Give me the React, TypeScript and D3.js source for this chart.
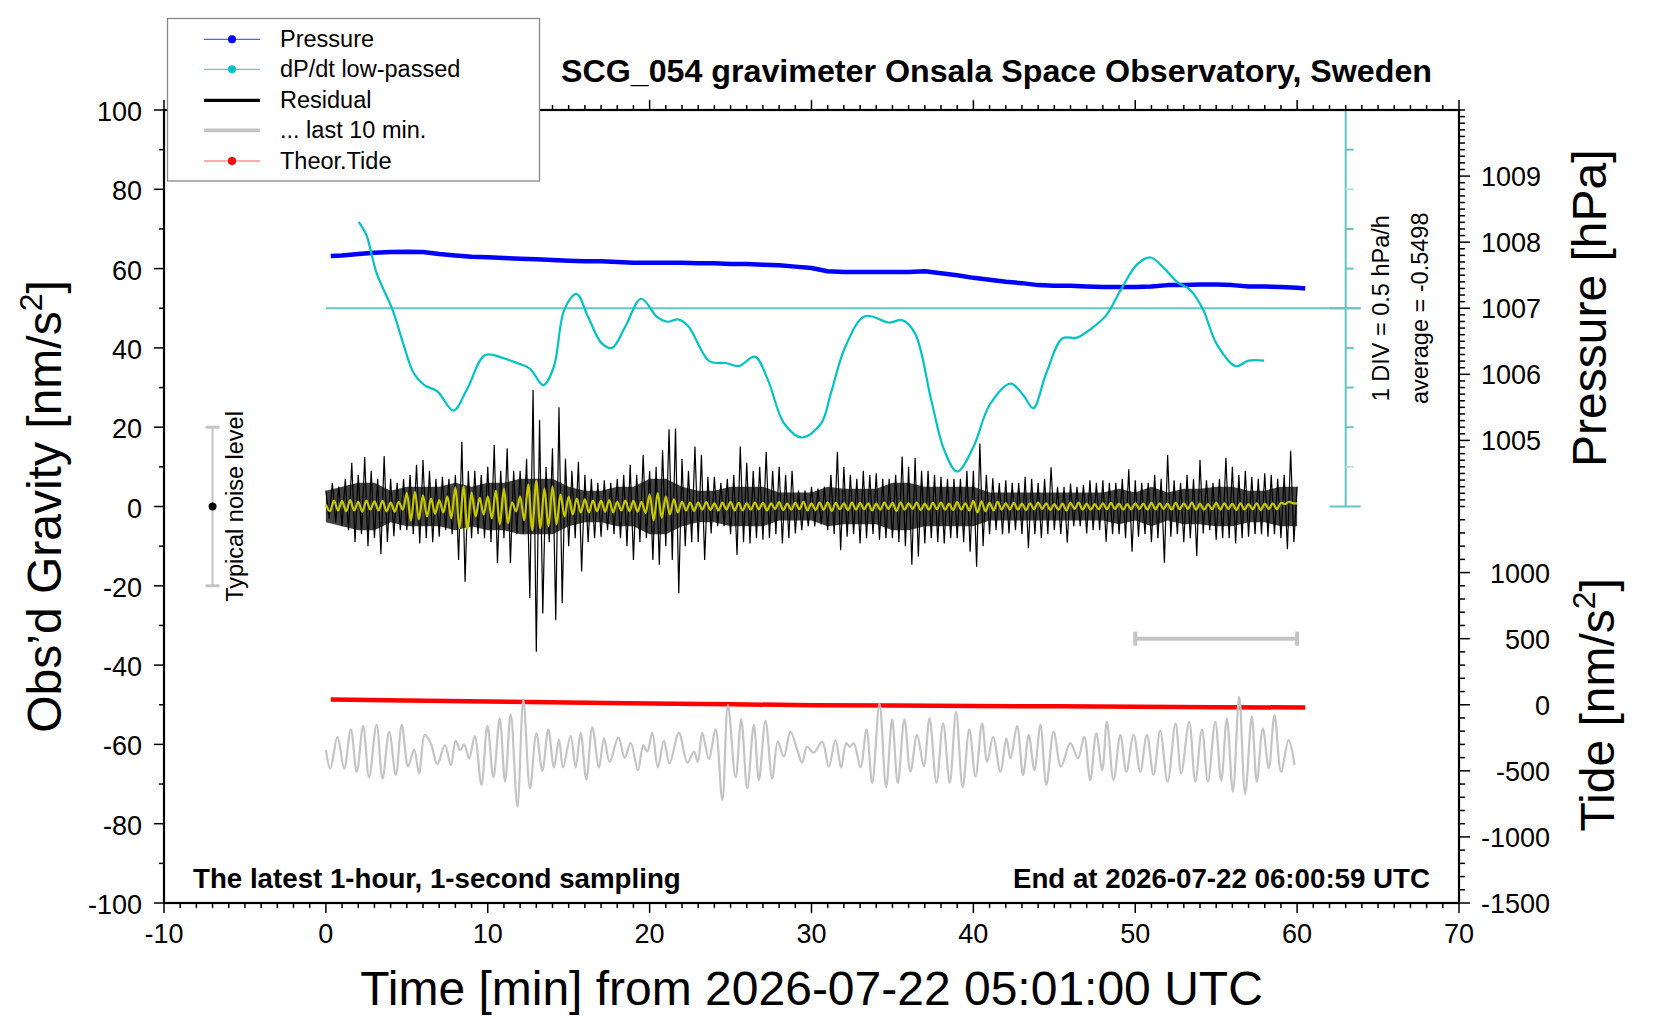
import React, { useRef, useEffect } from 'react';
import * as d3 from 'd3';

// ---- data ----

// barometric pressure [hPa] against minutes
const pressureTime = [0.3, 1, 2, 3, 4, 5, 6, 7, 8, 9, 10, 11, 12, 13, 14, 15, 16, 17, 18, 19, 20, 21, 22, 23, 24, 25, 26, 27, 28, 29, 30,
  31, 32, 33, 34, 35, 36, 37, 38, 39, 40, 41, 42, 43, 44, 45, 46, 47, 48, 49, 50, 51, 52, 53, 54, 55, 56, 57, 58, 59, 60, 60.5];
const pressureHpa = [1007.79, 1007.80, 1007.82, 1007.84, 1007.85, 1007.855, 1007.85, 1007.82, 1007.80, 1007.78, 1007.77,
  1007.76, 1007.75, 1007.74, 1007.73, 1007.72, 1007.71, 1007.71, 1007.70, 1007.69, 1007.69, 1007.69, 1007.69, 1007.68,
  1007.68, 1007.67, 1007.67, 1007.66, 1007.65, 1007.63, 1007.61, 1007.56, 1007.55, 1007.55, 1007.55, 1007.55, 1007.55,
  1007.56, 1007.53, 1007.50, 1007.46, 1007.43, 1007.40, 1007.38, 1007.35, 1007.34, 1007.34, 1007.33, 1007.32, 1007.32,
  1007.32, 1007.33, 1007.35, 1007.35, 1007.36, 1007.36, 1007.35, 1007.33, 1007.33, 1007.32, 1007.31, 1007.30];

// dP/dt low-passed [hPa/h]
const dpdtTime = [2.03, 2.49, 3.14, 4.12, 4.77, 5.43, 6.08, 6.9, 7.88, 8.7, 9.84, 10.98, 11.8, 12.6, 13.43, 14.08, 14.73,
  15.49, 16.2, 17.03, 17.68, 18.5, 19.48, 20.46, 21.1, 21.76, 22.4, 23.7, 24.7, 25.5, 26.5, 27.3, 28.3, 29.4, 30.6, 31.2,
  32.1, 33.3, 34.8, 35.6, 36.4, 37.4, 38.2, 39.0, 40.0, 41.0, 42.3, 43.1, 43.7, 44.5, 45.5, 46.4, 47.2, 48.2, 49.1, 50.1,
  50.95, 51.8, 52.6, 53.4, 54.2, 55.0, 56.2, 57.0, 57.96];
const dpdtValue = [1.09, 0.93, 0.44, -0.02, -0.44, -0.82, -0.97, -1.05, -1.29, -1.03, -0.59, -0.63, -0.69, -0.76, -0.97,
  -0.74, -0.02, 0.18, -0.11, -0.44, -0.5, -0.23, 0.12, -0.11, -0.17, -0.14, -0.23, -0.67, -0.69, -0.73, -0.61, -0.9, -1.45,
  -1.63, -1.45, -1.07, -0.48, -0.1, -0.18, -0.15, -0.32, -1.16, -1.79, -2.06, -1.75, -1.22, -0.95, -1.1, -1.26, -0.82, -0.38,
  -0.37, -0.27, -0.09, 0.23, 0.55, 0.64, 0.5, 0.33, 0.23, -0.02, -0.44, -0.73, -0.66, -0.66];
const dpdtAverage = -0.5498;

// residual gravity [nm/s^2], peaks every 0.2 min
const residualStep = 0.2;
const residual = [
  4, -3, 6, -4, 5, -5, 7, -6, 11, -9, 8, -7, 12.5, -10, 9, -8, 7, -12, 12.7, -9,
  7, -7.5, 6, -6, 7, -6, 8, -7, 10.5, -9.3, 11.7, -8, 9, -9, 7, -7.6, 7.5, -6, 7, -7,
  8, -13.5, 16.3, -19, 9, -8, 9, -7, 8, -8, 10, -9, 15.5, -14.3, 9, -8, 14.7, -14.3, 9, -7,
  9, -7, 12, -23.1, 29.4, -36.6, 21.8, -27, 10, -9, 14.7, -28.6, 25, -24.4, 12, -10, 9, -8, 11.3, -16.4,
  8, -9, 7, -8, 6, -7.6, 6.6, -6, 6, -7, 7, -8, 8, -10, 10.5, -13.5, 8, -9, 13, -8,
  9, -13.5, 10, -14.7, 14.2, -10, 19.5, -13.5, 19.7, -21.9, 12, -10, 9, -9, 15.1, -9, 13, -13.5, 7.5, -6.8,
  7.5, -5, 6, -5, 7, -7, 8, -12.2, 15.1, -9, 11, -9.3, 9, -8, 10, -8.4, 13.8, -8, 9, -7,
  10, -9.3, 8, -8, 9, -6.8, 4, -6, 4, -5, 5, -5, 4.5, -4.5, 5, -6, 8, -7, 13.8, -11,
  10, -7.6, 8, -7, 7, -9.3, 9, -8, 8, -7, 8.4, -8.4, 7, -8, 7, -8, 8, -9, 12.6, -10,
  10, -14.7, 12.2, -12.6, 9, -9.3, 9, -8, 8, -9, 7.5, -9.3, 7, -8, 7, -8, 7, -9, 9, -11.4,
  9, -15.2, 15.9, -10, 8, -7, 7.1, -6, 6, -7, 6.6, -6.8, 6, -6, 6, -7, 7.5, -10.5, 7, -7,
  6, -8, 7, -7, 9.9, -6, 5, -7, 5, -9.1, 5.8, -5, 5, -5, 5.5, -6.8, 6.6, -6, 6, -6,
  6.6, -8.9, 6, -7, 6, -7, 7, -8, 9.4, -11.4, 6.6, -7.6, 6, -7, 6, -9, 8, -8, 7, -14.2,
  13, -7.6, 6.6, -7, 6, -9, 8, -8, 7, -12.5, 11.7, -6.8, 6.6, -6, 6, -8.4, 7, -8, 12.3, -8,
  10, -9.3, 8, -8, 9, -7.6, 7.5, -7, 7, -7, 8.4, -7.6, 8, -7, 7, -8, 8, -10.8, 14, -9,
  5];

// half-width of the dense core of the residual band, per minute
const residualCore = [4, 5, 6, 6, 4, 5, 5, 5, 6, 5, 6, 6, 7, 7, 7, 5, 4, 4, 5, 5, 7, 7, 5, 4, 4, 5, 5, 5, 3.5, 3.5,
  3.5, 5, 4.5, 4.5, 4.5, 6, 6, 5, 5, 5, 5, 3.5, 3.5, 3.5, 3.5, 3.5, 3.5, 3.5, 3.5, 4.5, 3.5, 5, 3.5, 4.5, 4.5, 5, 5,
  4, 4, 5, 5];

// smoothed residual (yellow), peaks every 0.25 min
const smoothStep = 0.25;
const smoothed = [
  0.5, -1.2, 1.5, -1.0, 1.4, -1.2, 1.6, -1.0, 1.2, -1.3, 1.5, -0.8, 1.3, -1.0, 1.4, -1.2, 1.0, -1.3, 1.2, -0.8,
  3.4, -3.6, 3.7, -3.2, 2.8, -2.5, 2.0, -1.8, 1.6, -1.5, 2.5, -3.0, 4.8, -5.5, 5.0, -5.8, 3.5, -2.5, 2.2, -2.0,
  2.5, -3.0, 4.0, -4.5, 4.5, -4.2, 1.0, -1.2, 2.5, -3.5, 5.5, -6.0, 6.5, -5.5, 4.5, -5.0, 5.0, -4.5, 3.0, -2.5,
  2.5, -2.0, 2.0, -1.5, 1.8, -1.5, 1.5, -1.2, 1.5, -1.3, 1.6, -1.5, 1.2, -1.0, 1.5, -1.2, 1.4, -1.3, 1.2, -1.6,
  3.0, -3.5, 3.4, -2.8, 2.5, -2.0, 1.8, -1.5, 1.2, -1.0, 1.0, -1.1, 1.0, -0.8, 1.1, -0.9, 0.8, -1.0, 1.0, -0.8,
  1.2, -1.0, 0.9, -1.0, 0.8, -0.8, 1.0, -0.7, 0.9, -1.0, 0.8, -0.6, 1.1, -0.9, 0.7, -0.8, 0.9, -0.7, 1.2, -1.0,
  0.8, -0.9, 1.0, -0.8, 1.0, -1.1, 0.9, -0.7, 0.8, -0.9, 1.0, -0.8, 0.9, -0.7, 0.8, -1.0, 0.7, -0.8, 1.0, -0.6,
  0.9, -1.1, 1.0, -0.8, 0.8, -0.6, 1.0, -0.9, 0.7, -0.8, 0.9, -0.7, 1.0, -0.8, 0.7, -0.9, 1.1, -0.8, 0.8, -1.0,
  1.4, -1.5, 1.3, -1.2, 0.9, -1.0, 1.2, -0.8, 0.8, -0.7, 0.9, -0.8, 0.7, -0.9, 0.8, -0.7, 1.0, -0.6, 0.8, -0.9,
  0.6, -0.8, 0.7, -1.0, 0.9, -0.6, 1.0, -0.8, 0.7, -0.8, 0.6, -0.7, 0.8, -0.7, 0.9, -0.6, 0.7, -0.8, 0.6, -0.7,
  0.8, -0.6, 0.7, -0.8, 0.9, -0.7, 0.8, -0.6, 0.7, -0.8, 0.9, -0.7, 0.8, -0.6, 1.0, -0.8, 0.7, -0.8, 0.6, -0.7,
  0.9, -0.8, 0.8, -0.6, 0.7, -0.9, 0.8, -0.8, 0.6, -0.7, 0.8, -0.9, 0.7, -0.6, 0.8, -0.7, 0.9, 0.6, 1.2, 0.8,
  0.8];

// "last 10 min." trace (grey), peaks and troughs
const lastTime = [0.00, 0.27, 0.72, 1.13, 1.54, 1.91, 2.30, 2.67, 3.13, 3.50, 3.91, 4.32, 4.69, 5.08, 5.45, 5.76, 6.11,
  6.48, 6.89, 7.35, 7.72, 8.02, 8.29, 8.54, 8.85, 9.20, 9.61, 9.98, 10.35, 10.74, 11.07, 11.42, 11.83, 12.20, 12.61,
  13.00, 13.37, 13.74, 14.09, 14.40, 14.65, 15.12, 15.43, 15.74, 16.09, 16.46, 16.87, 17.18, 17.53, 18.07, 18.46, 18.83,
  19.28, 19.61, 19.86, 20.16, 20.51, 20.88, 21.23, 21.81, 22.33, 22.74, 22.98, 23.25, 23.66, 24.07, 24.49, 24.84, 25.31,
  25.66, 26.03, 26.44, 26.75, 27.16, 27.57, 27.92, 28.29, 28.70, 29.12, 29.42, 29.73, 30.14, 30.66, 31.07, 31.48, 31.83,
  32.14, 32.37, 32.61, 33.03, 33.40, 33.75, 34.20, 34.61, 34.98, 35.33, 35.74, 36.11, 36.52, 36.94, 37.29, 37.72, 38.13,
  38.54, 38.93, 39.34, 39.75, 40.13, 40.54, 40.85, 41.22, 41.67, 42.04, 42.29, 42.70, 43.07, 43.42, 43.77, 44.14, 44.51,
  44.96, 45.41, 45.99, 46.46, 46.85, 47.22, 47.59, 47.96, 48.25, 48.66, 49.08, 49.45, 49.90, 50.31, 50.72, 51.13, 51.54,
  52.00, 52.49, 52.84, 53.33, 53.71, 54.12, 54.49, 54.94, 55.31, 55.66, 56.03, 56.42, 56.79, 57.20, 57.51, 57.88, 58.25,
  58.60, 59.01, 59.47, 59.84];
const lastValue = [-61.4, -66.1, -58.1, -66.1, -56.2, -66.9, -55.3, -68.3, -55.1, -68.6, -56.8, -67.7, -55.1, -65.5,
  -61.3, -67.3, -57.6, -59.7, -65.0, -60.2, -65.2, -59.1, -61.4, -60.0, -63.5, -57.9, -70.2, -55.3, -68.3, -53.4, -69.4,
  -52.4, -75.7, -48.8, -71.1, -57.2, -66.6, -56.2, -65.8, -58.7, -65.8, -57.9, -65.8, -57.1, -68.8, -55.7, -65.8, -58.5,
  -64.4, -58.2, -63.4, -59.6, -66.5, -60.2, -61.8, -57.1, -65.8, -59.1, -64.8, -57.1, -64.6, -61.8, -64.4, -57.1, -63.7,
  -56.2, -74.0, -50.1, -68.3, -53.7, -71.1, -55.1, -69.0, -54.0, -68.6, -59.3, -63.1, -56.8, -61.4, -64.6, -60.6, -62.1,
  -59.3, -65.6, -58.9, -65.8, -59.7, -60.6, -59.7, -65.8, -56.2, -69.7, -49.7, -70.8, -53.7, -69.8, -53.7, -66.9, -57.6,
  -65.5, -53.4, -69.7, -54.7, -69.7, -51.8, -70.8, -56.2, -68.1, -54.7, -64.4, -58.1, -66.9, -58.5, -63.5, -55.4, -67.7,
  -57.6, -66.5, -55.1, -70.2, -56.8, -65.6, -59.7, -63.5, -58.1, -69.0, -57.2, -66.5, -54.3, -69.0, -57.6, -66.9, -57.5,
  -66.9, -57.6, -67.7, -56.6, -69.4, -54.7, -67.3, -54.3, -69.4, -56.2, -69.4, -54.3, -69.2, -53.4, -71.9, -48.0, -72.5,
  -53.0, -69.4, -56.0, -66.0, -52.6, -66.9, -58.9, -65.2];

// theoretical tide [nm/s^2]
const tideTime = [0.3, 5, 10, 15, 20, 25, 30, 35, 40, 45, 50, 55, 60.5];
const tideValue = [40, 32, 24.5, 17, 10, 3.5, -3, -6.5, -9, -12, -15, -18, -21];

// axis ticks
const xTicks = [-10, 0, 10, 20, 30, 40, 50, 60, 70];
const gravityTicks = [-100, -80, -60, -40, -20, 0, 20, 40, 60, 80, 100];
const pressureTicks = [1005, 1006, 1007, 1008, 1009];
const tideTicks = [-1500, -1000, -500, 0, 500, 1000];

const legendItems = ['Pressure', 'dP/dt low-passed', 'Residual', '... last 10 min.', 'Theor.Tide'];

const FONT = '"Liberation Sans", Arial, Helvetica, sans-serif';

const GravimeterChart = () => {
  const svgRef = useRef<SVGSVGElement | null>(null);

  useEffect(() => {
    if (!svgRef.current) return;
    const svg = d3.select(svgRef.current);
    svg.selectAll('*').remove();

    const left = 164, right = 1459, top = 110, bottom = 903;

    const x = d3.scaleLinear().domain([-10, 70]).range([left, right]);
    const y = d3.scaleLinear().domain([-100, 100]).range([bottom, top]);
    const yP = d3.scaleLinear().domain([998, 1010]).range([bottom, top]);
    const yT = d3.scaleLinear().domain([-1500, 4500]).range([bottom, top]);
    const yD = d3.scaleLinear().domain([-2.5, 2.5]).range([y(0), top]); // 1 DIV = 0.5 hPa/h

    svg.append('rect').attr('width', 1660).attr('height', 1020).attr('fill', '#fff');

    // ---- dP/dt scale bar ----
    const barX = x(63);
    const teal = '#66c3c3';
    svg.append('line').attr('x1', x(0)).attr('x2', barX + 15).attr('y1', yD(0)).attr('y2', yD(0))
      .attr('stroke', teal).attr('stroke-width', 2);
    svg.append('line').attr('x1', barX).attr('x2', barX).attr('y1', yD(2.5)).attr('y2', yD(-2.5))
      .attr('stroke', teal).attr('stroke-width', 2);
    d3.range(-2.5, 2.51, 0.5).forEach((v) => {
      const major = Math.abs(v) > 2.4 || Math.abs(v) < 0.01;
      const light = Math.abs(v - 1.5) < 0.01 || Math.abs(v + 2.0) < 0.01;
      svg.append('line')
        .attr('x1', major ? barX - 16 : barX).attr('x2', major ? barX + 15 : barX + 8)
        .attr('y1', yD(v)).attr('y2', yD(v))
        .attr('stroke', light ? '#b5e2e2' : teal).attr('stroke-width', 2);
    });
    svg.append('text').attr('transform', `translate(1388.5,${yD(0)}) rotate(-90)`)
      .attr('text-anchor', 'middle').attr('font-family', FONT).attr('font-size', 23.5)
      .text('1 DIV = 0.5 hPa/h');
    svg.append('text').attr('transform', `translate(1427.5,${yD(0)}) rotate(-90)`)
      .attr('text-anchor', 'middle').attr('font-family', FONT).attr('font-size', 23.5)
      .text(`average = ${dpdtAverage}`);

    // ---- pressure ----
    const pLine = d3.line<number>().x((_, i) => x(pressureTime[i])).y((d) => yP(d));
    svg.append('path').attr('d', pLine(pressureHpa)).attr('fill', 'none')
      .attr('stroke', '#0000ff').attr('stroke-width', 4.5).attr('stroke-linejoin', 'round');

    // ---- dP/dt ----
    const dLine = d3.line<number>().x((_, i) => x(dpdtTime[i])).y((d) => yD(d)).curve(d3.curveCatmullRom.alpha(0.5));
    svg.append('path').attr('d', dLine(dpdtValue)).attr('fill', 'none')
      .attr('stroke', '#00c4c4').attr('stroke-width', 2.2);

    // ---- residual: dense core band, spikes, smoothed ----
    const coreArea = d3.area<number>().x((_, i) => x(i)).y0((d) => y(-d)).y1((d) => y(d));
    svg.append('path').attr('d', coreArea(residualCore)).attr('fill', '#424242');
    const rLine = d3.line<number>().x((_, i) => x(i * residualStep)).y((d) => y(d));
    svg.append('path').attr('d', rLine(residual)).attr('fill', 'none')
      .attr('stroke', '#000').attr('stroke-width', 1.2);
    const sLine = d3.line<number>().x((_, i) => x(i * smoothStep)).y((d) => y(d)).curve(d3.curveCatmullRom);
    svg.append('path').attr('d', sLine(smoothed)).attr('fill', 'none')
      .attr('stroke', '#c8c800').attr('stroke-width', 2.2);

    // ---- tide ----
    const tLine = d3.line<number>().x((_, i) => x(tideTime[i])).y((d) => yT(d));
    svg.append('path').attr('d', tLine(tideValue)).attr('fill', 'none')
      .attr('stroke', '#ff0000').attr('stroke-width', 4.5);

    // ---- last 10 min trace ----
    const lLine = d3.line<number>().x((_, i) => x(lastTime[i])).y((d) => y(d)).curve(d3.curveCatmullRom.alpha(0.5));
    svg.append('path').attr('d', lLine(lastValue)).attr('fill', 'none')
      .attr('stroke', '#c4c4c4').attr('stroke-width', 2.2);

    // bracket marking last 10 minutes
    const grey = '#c4c4c4';
    svg.append('line').attr('x1', x(50)).attr('x2', x(60)).attr('y1', yT(500)).attr('y2', yT(500))
      .attr('stroke', grey).attr('stroke-width', 4);
    [50, 60].forEach((m) => {
      svg.append('line').attr('x1', x(m)).attr('x2', x(m)).attr('y1', yT(500) - 7).attr('y2', yT(500) + 7)
        .attr('stroke', grey).attr('stroke-width', 4);
    });

    // ---- typical noise level ----
    const nx = x(-7);
    svg.append('line').attr('x1', nx).attr('x2', nx).attr('y1', y(20)).attr('y2', y(-20))
      .attr('stroke', grey).attr('stroke-width', 2);
    [20, -20].forEach((v) => {
      svg.append('line').attr('x1', nx - 7).attr('x2', nx + 7).attr('y1', y(v)).attr('y2', y(v))
        .attr('stroke', grey).attr('stroke-width', 3);
    });
    svg.append('circle').attr('cx', nx).attr('cy', y(0)).attr('r', 4).attr('fill', '#000');
    svg.append('text').attr('transform', `translate(243,${y(0)}) rotate(-90)`)
      .attr('text-anchor', 'middle').attr('font-family', FONT).attr('font-size', 23.5)
      .text('Typical noise level');

    // ---- frame and ticks ----
    const frame = svg.append('g').attr('stroke', '#000');
    frame.append('rect').attr('x', left).attr('y', top).attr('width', right - left).attr('height', bottom - top)
      .attr('fill', 'none').attr('stroke-width', 2.2);
    d3.range(-10, 71, 1).forEach((m) => {
      const len = m % 10 === 0 ? 10 : 5;
      frame.append('line').attr('x1', x(m)).attr('x2', x(m)).attr('y1', bottom).attr('y2', bottom + len).attr('stroke-width', 1.5);
      frame.append('line').attr('x1', x(m)).attr('x2', x(m)).attr('y1', top).attr('y2', top - len).attr('stroke-width', 1.5);
    });
    d3.range(-100, 101, 10).forEach((v) => {
      const len = v % 20 === 0 ? 10 : 5;
      frame.append('line').attr('x1', left).attr('x2', left - len).attr('y1', y(v)).attr('y2', y(v)).attr('stroke-width', 1.5);
    });
    d3.range(10040, 10101, 1).forEach((k) => {
      const p = k / 10;
      const len = pressureTicks.includes(p) ? 11 : 6;
      frame.append('line').attr('x1', right).attr('x2', right + len).attr('y1', yP(p)).attr('y2', yP(p)).attr('stroke-width', 1.5);
    });
    d3.range(-1500, 1500, 100).forEach((t) => {
      const len = tideTicks.includes(t) ? 11 : 6;
      frame.append('line').attr('x1', right).attr('x2', right + len).attr('y1', yT(t)).attr('y2', yT(t)).attr('stroke-width', 1.5);
    });

    const labels = svg.append('g').attr('font-family', FONT).attr('font-size', 27).attr('fill', '#000');
    xTicks.forEach((m) => {
      labels.append('text').attr('x', x(m)).attr('y', 943).attr('text-anchor', 'middle').text(m);
    });
    gravityTicks.forEach((v) => {
      labels.append('text').attr('x', 142).attr('y', y(v) + 11).attr('text-anchor', 'end').text(v);
    });
    pressureTicks.forEach((p) => {
      labels.append('text').attr('x', 1481).attr('y', yP(p) + 10).attr('text-anchor', 'start').text(p);
    });
    tideTicks.forEach((t) => {
      labels.append('text').attr('x', 1550).attr('y', yT(t) + 10).attr('text-anchor', 'end').text(t);
    });

    // ---- axis titles ----
    const big = svg.append('g').attr('font-family', FONT).attr('font-size', 48).attr('fill', '#000');
    big.append('text').attr('x', (left + right) / 2).attr('y', 1005).attr('text-anchor', 'middle')
      .text('Time [min] from 2026-07-22 05:01:00 UTC');
    const gl = big.append('text').attr('transform', `translate(60.5,${y(0)}) rotate(-90)`).attr('text-anchor', 'middle');
    gl.append('tspan').text('Obs’d Gravity [nm/s');
    gl.append('tspan').attr('font-size', 32).attr('dy', -19).text('2');
    gl.append('tspan').attr('dy', 19).text(']');
    big.append('text').attr('transform', `translate(1605.5,${yP(1007)}) rotate(-90)`).attr('text-anchor', 'middle')
      .text('Pressure [hPa]');
    const tl = big.append('text').attr('transform', `translate(1613.5,${yT(0)}) rotate(-90)`).attr('text-anchor', 'middle');
    tl.append('tspan').text('Tide [nm/s');
    tl.append('tspan').attr('font-size', 32).attr('dy', -19).text('2');
    tl.append('tspan').attr('dy', 19).text(']');

    // ---- title and notes ----
    svg.append('text').attr('x', 996.5).attr('y', 81.7).attr('text-anchor', 'middle')
      .attr('font-family', FONT).attr('font-weight', 'bold').attr('font-size', 31)
      .attr('textLength', 871).attr('lengthAdjust', 'spacingAndGlyphs')
      .text('SCG_054 gravimeter Onsala Space Observatory, Sweden');
    svg.append('text').attr('x', 193).attr('y', 888).attr('font-family', FONT).attr('font-weight', 'bold')
      .attr('font-size', 27.7).text('The latest 1-hour, 1-second sampling');
    svg.append('text').attr('x', 1430).attr('y', 888).attr('text-anchor', 'end').attr('font-family', FONT)
      .attr('font-weight', 'bold').attr('font-size', 27.7).text('End at 2026-07-22 06:00:59 UTC');

    // ---- legend ----
    const lg = svg.append('g');
    lg.append('rect').attr('x', 167.5).attr('y', 18.5).attr('width', 372).attr('height', 162.5)
      .attr('fill', '#fff').attr('stroke', '#888').attr('stroke-width', 1.3);
    const rows = [39.3, 69.3, 100.3, 130.3, 161];
    const styles = [
      { stroke: '#5a5aff', width: 1.2, dot: '#0000ff' },
      { stroke: '#55d2d2', width: 1.2, dot: '#00c4c4' },
      { stroke: '#000', width: 3.2, dot: '' },
      { stroke: '#c4c4c4', width: 3.8, dot: '' },
      { stroke: '#ff5a5a', width: 1.2, dot: '#ff0000' },
    ];
    legendItems.forEach((name, i) => {
      const s = styles[i];
      lg.append('line').attr('x1', 204).attr('x2', 260).attr('y1', rows[i]).attr('y2', rows[i])
        .attr('stroke', s.stroke).attr('stroke-width', s.width);
      if (s.dot) lg.append('circle').attr('cx', 232).attr('cy', rows[i]).attr('r', 4).attr('fill', s.dot);
      lg.append('text').attr('x', 280).attr('y', rows[i] + 8).attr('font-family', FONT).attr('font-size', 23.5)
        .text(name);
    });
  }, []);

  return (
    <svg ref={svgRef} width={1660} height={1020}
      style={{ position: 'absolute', left: 0, top: 0, display: 'block' }} />
  );
};

export default function App() {
  return <GravimeterChart />;
}
